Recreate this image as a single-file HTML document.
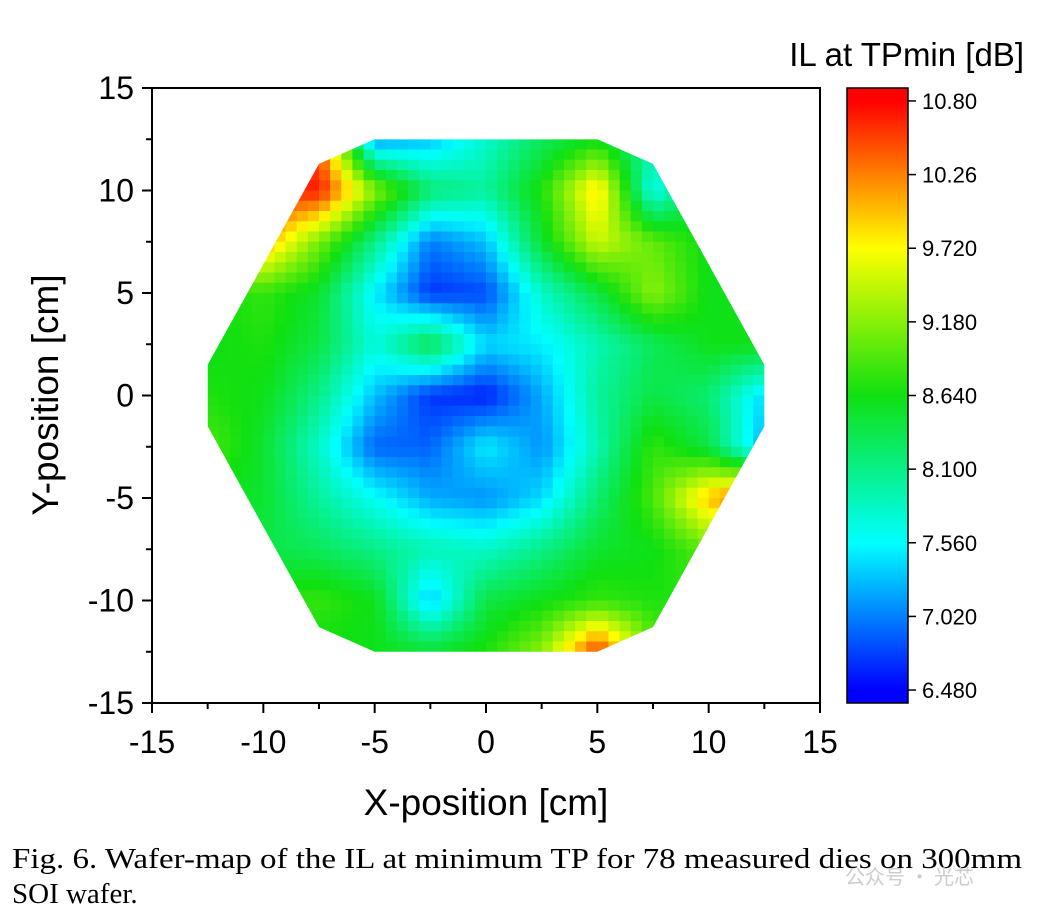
<!DOCTYPE html>
<html><head><meta charset="utf-8"><style>
body{margin:0;background:#fff;width:1051px;height:918px;overflow:hidden;font-family:"Liberation Sans",Arial,sans-serif}
</style></head><body>
<svg id="chart" width="1051" height="918" xmlns="http://www.w3.org/2000/svg">
<defs>
<clipPath id="wafer"><polygon id="waferPoly"/></clipPath>
<linearGradient id="cbar" x1="0" y1="1" x2="0" y2="0">
<stop offset="0.021" stop-color="#0000ff"/><stop offset="0.26" stop-color="#00ffff"/><stop offset="0.5" stop-color="#10e010"/><stop offset="0.74" stop-color="#ffff00"/><stop offset="0.979" stop-color="#ff0000"/>
</linearGradient>
</defs>
<g id="cells" clip-path="url(#wafer)"></g>
<rect x="152" y="88" width="668" height="615" fill="none" stroke="#000" stroke-width="2"/>
<g id="axes"></g>
<rect x="847" y="88" width="61" height="615" fill="url(#cbar)" stroke="#000" stroke-width="1.5"/>
<g id="cbticks"></g>
<text x="1024" y="66" text-anchor="end" font-size="33">IL at TPmin [dB]</text>
<text x="486" y="815" text-anchor="middle" font-size="37">X-position [cm]</text>
<text transform="translate(58,395) rotate(-90)" text-anchor="middle" font-size="37">Y-position [cm]</text>
<text x="12" y="868" font-family="Liberation Serif,serif" font-size="29" textLength="1010" lengthAdjust="spacingAndGlyphs">Fig. 6.  Wafer-map of the IL at minimum TP for 78 measured dies on 300mm</text>
<text x="12" y="903" font-family="Liberation Serif,serif" font-size="29">SOI wafer.</text>
<text x="845" y="884" font-family="Noto Sans CJK SC,sans-serif" font-size="20" fill="#ccc">公众号 · 光芯</text>
</svg>
<script>
// grid positions (cm) and IL values (dB), rows from y=12.5 down to y=-12.5
const gridX=[-12.5,-10,-7.5,-5,-2.5,0,2.5,5,7.5,10,12.5];
const gridY=[12.5,10,7.5,5,2.5,0,-2.5,-5,-7.5,-10,-12.5];
const values=[
[10.6,10.6,10.4,7.1,7.3,7.8,8.3,8.6,8.0,8.6,8.6],
[10.5,10.6,10.7,9.2,8.2,8.0,8.7,9.9,7.6,8.6,8.6],
[9.9,10.1,9.1,8.1,7.0,7.3,8.5,9.5,9.0,8.6,8.6],
[8.6,8.8,8.5,7.5,6.7,6.8,7.8,8.4,9.2,8.6,8.6],
[8.6,8.7,8.4,7.7,8.4,7.4,7.5,7.9,8.3,8.6,8.6],
[8.7,8.6,8.1,7.3,6.7,6.6,7.2,8.0,8.4,8.2,7.4],
[8.9,8.5,7.8,6.9,6.9,7.5,7.1,7.9,8.8,8.4,7.2],
[8.6,8.5,8.0,7.6,7.2,7.1,7.4,8.2,8.9,10.0,10.6],
[8.5,8.4,8.3,8.1,7.9,7.8,8.1,8.5,8.6,9.0,9.0],
[8.7,8.7,8.8,8.6,7.3,8.4,8.6,8.8,8.7,8.7,8.7],
[8.6,8.6,8.6,8.6,8.5,8.7,9.2,10.6,9.0,8.8,8.8]];
const waferOutline=[[-5,12.5],[5,12.5],[7.5,11.3],[12.5,1.5],[12.5,-1.5],[7.5,-11.3],[5,-12.5],[-5,-12.5],[-7.5,-11.3],[-12.5,-1.5],[-12.5,1.5],[-7.5,11.3]];
const axisTicks=[-15,-10,-5,0,5,10,15];
const cbTicks=["10.80","10.26","9.720","9.180","8.640","8.100","7.560","7.020","6.480"];
const NS="http://www.w3.org/2000/svg";
const sx=v=>152+(v+15)*668/30, sy=v=>88+(15-v)*615/30;
const cbMin=6.385,cbMax=10.895, cy=v=>703-(v-cbMin)/(cbMax-cbMin)*615;
function mk(t,a,p){const e=document.createElementNS(NS,t);for(const k in a)e.setAttribute(k,a[k]);(p||document.getElementById('chart')).appendChild(e);return e;}
document.getElementById('waferPoly').setAttribute('points',waferOutline.map(p=>sx(p[0])+','+sy(p[1])).join(' '));
const stops=[[6.48,[0,0,255]],[7.56,[0,255,255]],[8.64,[16,224,16]],[9.72,[255,255,0]],[10.8,[255,0,0]]];
function color(v){if(v<=stops[0][0])return stops[0][1];for(let i=1;i<stops.length;i++){if(v<=stops[i][0]){const t=(v-stops[i-1][0])/(stops[i][0]-stops[i-1][0]);return stops[i-1][1].map((c,j)=>Math.round(c+(stops[i][1][j]-c)*t));}}return stops[stops.length-1][1];}
function val(x,y){let fx=(x-gridX[0])/2.5, fy=(gridY[0]-y)/2.5;fx=Math.max(0,Math.min(9.999,fx));fy=Math.max(0,Math.min(9.999,fy));
const i=Math.floor(fx),j=Math.floor(fy),tx=fx-i,ty=fy-j;
return values[j][i]*(1-tx)*(1-ty)+values[j][i+1]*tx*(1-ty)+values[j+1][i]*(1-tx)*ty+values[j+1][i+1]*tx*ty;}
const cells=document.getElementById('cells');const step=0.5;
for(let y=12.5;y>-12.5;y-=step){for(let x=-12.5;x<12.5;x+=step){
const v=val(x+step/2,y-step/2),c=color(v);
const r=mk('rect',{x:sx(x),y:sy(y),width:step*668/30+0.6,height:step*615/30+0.6,fill:`rgb(${c})`},cells);

}}
const ax=document.getElementById('axes');
for(let v=-15;v<=15;v+=2.5){const major=v%5===0,L=major?10:6;
mk('line',{x1:sx(v),x2:sx(v),y1:703,y2:703+L,stroke:'#000','stroke-width':2},ax);
mk('line',{x1:152,x2:152-L,y1:sy(v),y2:sy(v),stroke:'#000','stroke-width':2},ax);}
axisTicks.forEach(v=>{
const t=mk('text',{x:sx(v),y:753,'text-anchor':'middle','font-size':32},ax);t.textContent=v;


const u=mk('text',{x:134,y:sy(v)+11,'text-anchor':'end','font-size':32},ax);u.textContent=v;

});
const cb=document.getElementById('cbticks');
cbTicks.forEach(s=>{const v=parseFloat(s),y=cy(v);
mk('line',{x1:908,x2:916,y1:y,y2:y,stroke:'#000','stroke-width':1.5},cb);
const t=mk('text',{x:922,y:y+8,'font-size':22},cb);t.textContent=s;

});
</script>
</body></html>
